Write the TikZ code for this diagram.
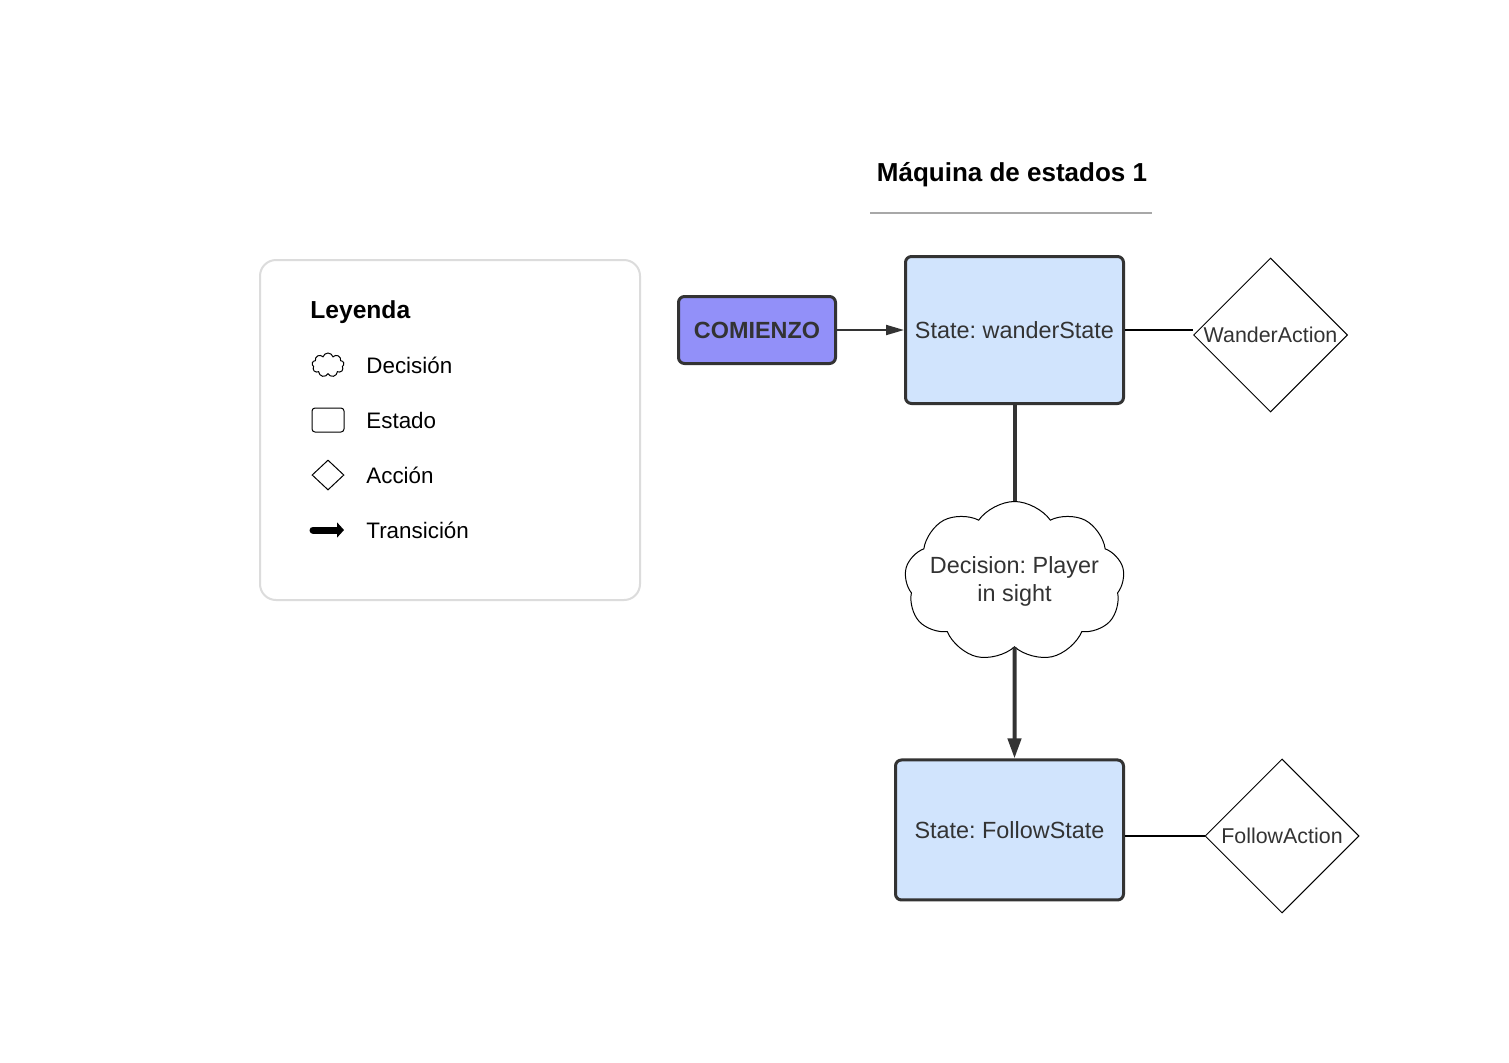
\documentclass[tikz,border=0pt]{standalone}
\usepackage{fontspec}
\setmainfont{Liberation Sans}
\usepackage{xcolor}
\usetikzlibrary{positioning}
\usetikzlibrary{arrows.meta}
\usetikzlibrary{shapes.geometric, shapes.symbols}
\definecolor{stateblue}{HTML}{D1E4FD}
\definecolor{startblue}{HTML}{9290F9}
\definecolor{darkline}{HTML}{333333}
\definecolor{legendgray}{HTML}{DCDCDC}
\definecolor{rulegray}{HTML}{A8A8A8}
\frenchspacing

\begin{document}
\begin{tikzpicture}[x=0.5pt, y=-0.5pt, font=\fontsize{11.7}{14}\selectfont]
	\tikzstyle{state}=[draw=darkline, line width=1.5pt, rounded corners=3pt, fill=stateblue, text=darkline, inner sep=0pt]
	\tikzstyle{startbox}=[state, fill=startblue, font=\fontsize{11.7}{14}\selectfont\bfseries, minimum width=78.5pt, minimum height=33.5pt]
	\tikzstyle{action}=[draw=black, diamond, line width=0.5pt, minimum width=77pt, minimum height=77pt, inner sep=0pt, text=darkline, font=\fontsize{10.7}{13}\selectfont]
	\tikzstyle{decision}=[draw=black, cloud, cloud puffs=9, cloud puff arc=110, aspect=1.375, line width=0.5pt, minimum width=110pt, minimum height=80pt, inner xsep=-10pt, inner ysep=-2pt, align=center, text=darkline, fill=white]
	\tikzstyle{trans}=[draw=darkline, line width=2pt]
	\tikzstyle{link}=[draw=darkline, line width=0.6pt]
	\tikzstyle{legtext}=[inner sep=0pt, anchor=west, font=\fontsize{11.2}{13}\selectfont]
	\tikzstyle{icon}=[draw=black, line width=0.5pt, inner sep=0pt]

	\useasboundingbox[fill=white] (0,0) rectangle (1509,1062);

	% title
	\node[font=\fontsize{13}{15}\selectfont\bfseries] (title) at (1012,175) {Máquina de estados 1};
	\draw[rulegray, line width=0.8pt] (870,213) -- (1152,213);

	% states
	\node[state, minimum width=109pt, minimum height=73.5pt] (ws) at (1014.5,330) {State: wanderState};
	\node[startbox, left=33.5pt of ws] (start) {COMIENZO};
	\node[action, right=34pt of ws, yshift=-2.5pt] (wa) {WanderAction};
	\node[decision, below=48pt of ws] (dec) {Decision: Player\\in sight};
	\node[state, below=55.5pt of dec, xshift=-2.5pt, minimum width=114pt, minimum height=70pt] (fs) {State: FollowState};
	\node[action, right=39.75pt of fs, yshift=-3pt] (fa) {FollowAction};

	\path (start) edge[link, line width=1pt, -{Triangle[length=9pt, width=5pt]}] (ws);
	\path (ws.east) edge[link, draw=black] (ws.east -| wa.west);
	\path (fa.west -| fs.east) edge[link, draw=black] (fa.west);
	\path (ws) edge[trans] (dec);
	\path (dec) edge[trans, -{Triangle[length=10pt, width=6.5pt]}] (dec |- fs.north);

	% legend
	\draw[legendgray, line width=1pt, rounded corners=8pt] (260,260) rectangle (640,600);
	\node[legtext, font=\fontsize{12.3}{14}\selectfont\bfseries] (leg) at (310,312) {Leyenda};
	\node[icon, cloud, cloud puffs=9, aspect=1.4, minimum width=16pt, minimum height=12pt] (icloud) at (328,365) {};
	\node[icon, rounded corners=1.5pt, minimum width=16pt, minimum height=12pt] (irect) at (328,420) {};
	\node[icon, diamond, minimum width=16pt, minimum height=15pt] (idiam) at (328,475) {};
	\coordinate (iarr) at (313,530);
	\coordinate[right=15.5pt of iarr] (iarrend);
	\path (iarr) edge[draw=black, line width=3.5pt, line cap=round, -{Triangle[length=3.5pt, width=7.5pt]}] (iarrend);
	\node[legtext] at (366,365) {Decisión};
	\node[legtext] at (366,420) {Estado};
	\node[legtext] at (366,475) {Acción};
	\node[legtext] at (366,530) {Transición};
\end{tikzpicture}
\end{document}
